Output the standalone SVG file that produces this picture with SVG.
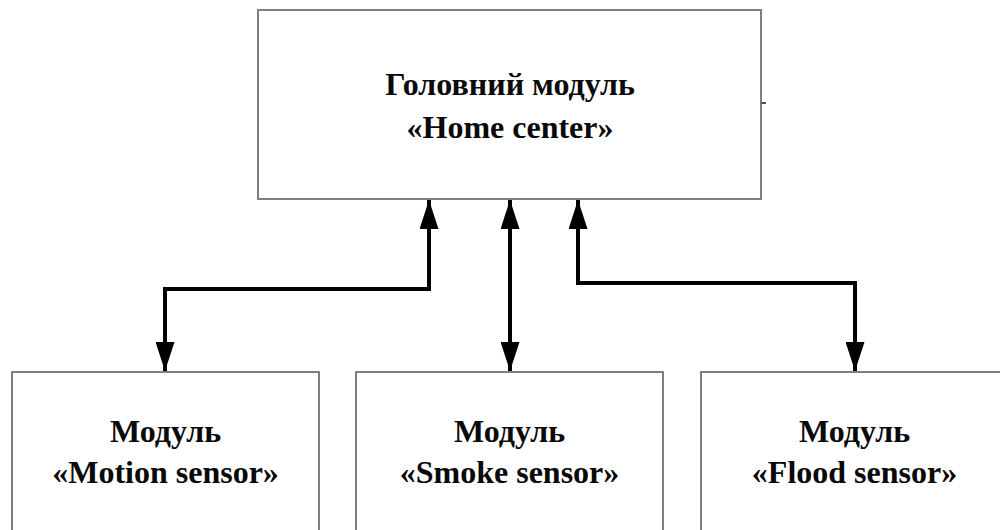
<svg xmlns="http://www.w3.org/2000/svg" width="1000" height="530" viewBox="0 0 1000 530">
  <style>
    .box { fill: #ffffff; stroke: #7f7f7f; stroke-width: 2; }
    .label { font-family: 'Liberation Serif', 'Times New Roman', serif; font-weight: 700; font-size: 32px; fill: #0a0a0a; text-anchor: middle; }
    .link { fill: none; stroke: #000000; stroke-width: 4; stroke-linejoin: miter; }
  </style>
  <defs>
    <!-- filled triangular head, used at both ends of every link -->
    <marker id="head" viewBox="0 0 29 19" refX="29" refY="9.5" markerWidth="29" markerHeight="19" markerUnits="userSpaceOnUse" orient="auto-start-reverse">
      <path d="M0,0 L29,9.5 L0,19 Z" fill="#000000"/>
    </marker>
  </defs>
  <rect width="1000" height="530" fill="#ffffff"/>

  <g id="home-center">
    <rect class="box" x="258" y="10" width="503" height="189"/>
    <line x1="761" y1="103" x2="766" y2="103" stroke="#555555" stroke-width="2"/>
    <text class="label" x="510" y="95">Головний модуль</text>
    <text class="label" x="510" y="138">«Home center»</text>
  </g>

  <g id="motion-sensor">
    <rect class="box" x="12" y="372" width="307" height="170"/>
    <text class="label" x="165.5" y="442">Модуль</text>
    <text class="label" x="165.5" y="483">«Motion sensor»</text>
  </g>

  <g id="smoke-sensor">
    <rect class="box" x="356" y="372" width="307" height="170"/>
    <text class="label" x="509.5" y="442">Модуль</text>
    <text class="label" x="509.5" y="483">«Smoke sensor»</text>
  </g>

  <g id="flood-sensor">
    <rect class="box" x="701" y="372" width="307" height="170"/>
    <text class="label" x="854.5" y="442">Модуль</text>
    <text class="label" x="854.5" y="483">«Flood sensor»</text>
  </g>

  <g id="connectors">
    <path class="link" d="M429,200 L429,289 L165,289 L165,371" marker-start="url(#head)" marker-end="url(#head)"/>
    <path class="link" d="M510,200 L510,371" marker-start="url(#head)" marker-end="url(#head)"/>
    <path class="link" d="M578,200 L578,283 L855,283 L855,371" marker-start="url(#head)" marker-end="url(#head)"/>
  </g>
</svg>
